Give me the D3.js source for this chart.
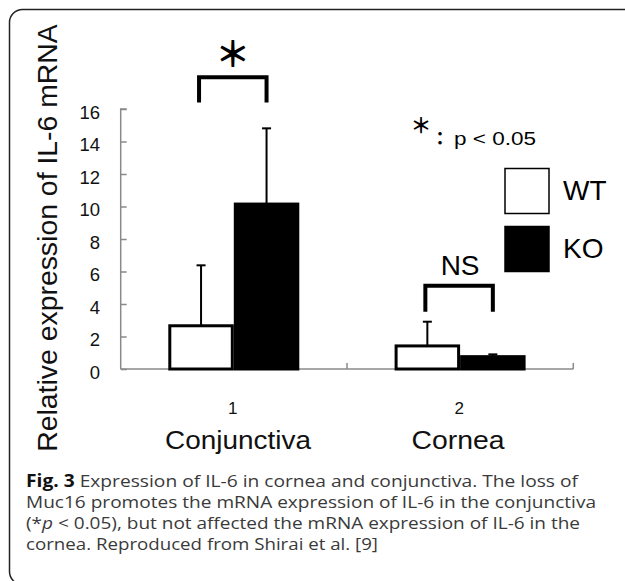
<!DOCTYPE html>
<html>
<head>
<meta charset="utf-8">
<script src="https://cdn.jsdelivr.net/npm/d3@7"></script>
<style>
  html, body { margin: 0; padding: 0; background: #fff; }
  svg { display: block; }
</style>
</head>
<body>
<svg id="chart" width="625" height="581"></svg>
<script>
// ---- data ----
const categories = ["1", "2"];
const categoryNames = ["Conjunctiva", "Cornea"];
const series = ["WT", "KO"];
const wtValues = [2.66, 1.42];
const koValues = [10.15, 0.76];
const wtErrors = [3.72, 1.49];
const koErrors = [4.66, 0.14];
const yTicks = [0, 2, 4, 6, 8, 10, 12, 14, 16];
const significance = ["＊", "NS"];
const yTitle = "Relative expression of IL-6 mRNA";
const captionLines = [
  [["Fig. 3", true], [" Expression of IL-6 in cornea and conjunctiva. The loss of", false]],
  [["Muc16 promotes the mRNA expression of IL-6 in the conjunctiva", false]],
  [["(*", false], ["p", "i"], [" < 0.05), but not affected the mRNA expression of IL-6 in the", false]],
  [["cornea. Reproduced from Shirai et al. [9]", false]]
];

const svg = d3.select("#chart");
const sans = "'Liberation Sans', Arial, sans-serif";
const cjk = "'Noto Sans CJK JP', sans-serif";

// frame
svg.append("rect").attr("x", 9.5).attr("y", 9.5).attr("width", 640).attr("height", 575)
  .attr("rx", 13).attr("fill", "none").attr("stroke", "#222").attr("stroke-width", 1.5);

// scales
const y = d3.scaleLinear().domain([0, 16]).range([369, 109]);
const x0 = d3.scaleBand().domain(categories).range([120.7, 573.3]).padding(0);
const x1 = d3.scaleBand().domain(series).range([47.6, 178.6]).padding(0);

// axes
const axisColor = "#8a8a8a";
const gy = svg.append("g").attr("transform", "translate(120.7,0)")
  .call(d3.axisRight(y).tickValues(yTicks).tickSize(6).tickFormat(""));
gy.select(".domain").attr("d", `M6,${y(16)}H0V${y(0)}`);
gy.selectAll("line, path").attr("stroke", axisColor).attr("stroke-width", 1.5);

svg.append("line").attr("x1", x0.range()[0]).attr("x2", x0.range()[1])
  .attr("y1", y(0)).attr("y2", y(0)).attr("stroke", axisColor).attr("stroke-width", 1.5);
svg.selectAll(".xtick").data(categories).enter().append("line")
  .attr("x1", d => x0(d) + x0.bandwidth()).attr("x2", d => x0(d) + x0.bandwidth())
  .attr("y1", y(0)).attr("y2", y(0) - 6).attr("stroke", axisColor).attr("stroke-width", 1.5);

// y tick labels
svg.selectAll(".ylab").data(yTicks).enter().append("text")
  .attr("x", 100).attr("y", d => y(d) + 9.5)
  .attr("text-anchor", "end").attr("font-family", sans).attr("font-size", 18.5)
  .attr("fill", "#111").text(d => d);

// y title
svg.append("text").attr("transform", `translate(56.5,238) rotate(-90)`)
  .attr("text-anchor", "middle").attr("font-family", sans).attr("font-size", 28.4)
  .attr("fill", "#111").text(yTitle);

// bars
const rows = [];
categories.forEach((c, i) => {
  rows.push({ cat: c, s: "WT", v: wtValues[i], e: wtErrors[i] });
  rows.push({ cat: c, s: "KO", v: koValues[i], e: koErrors[i] });
});
const cx = d => x0(d.cat) + x1(d.s) + x1.bandwidth() / 2;

svg.selectAll(".bar").data(rows).enter().append("rect")
  .attr("x", d => x0(d.cat) + x1(d.s) + 1.5)
  .attr("width", x1.bandwidth() - 3)
  .attr("y", d => y(d.v))
  .attr("height", d => y(0) - y(d.v))
  .attr("fill", d => d.s === "WT" ? "#fff" : "#000")
  .attr("stroke", "#000").attr("stroke-width", 3);

// error bars (upper only)
const eb = svg.selectAll(".err").data(rows).enter().append("g");
eb.append("line").attr("x1", cx).attr("x2", cx)
  .attr("y1", d => y(d.v)).attr("y2", d => y(d.v + d.e))
  .attr("stroke", "#000").attr("stroke-width", 2);
eb.append("line").attr("x1", d => cx(d) - 4.5).attr("x2", d => cx(d) + 4.5)
  .attr("y1", d => y(d.v + d.e)).attr("y2", d => y(d.v + d.e))
  .attr("stroke", "#000").attr("stroke-width", 2);

// x labels
svg.selectAll(".xlab").data(categories).enter().append("text")
  .attr("x", d => x0(d) + x0.bandwidth() / 2 - 1).attr("y", 414)
  .attr("text-anchor", "middle").attr("font-family", sans).attr("font-size", 17)
  .attr("fill", "#111").text(d => d);
const nameX = [238, 458];
const nameLen = [146, 93];
svg.selectAll(".cname").data(categoryNames).enter().append("text")
  .attr("x", (d, i) => nameX[i] - nameLen[i] / 2).attr("y", 449)
  .attr("textLength", (d, i) => nameLen[i]).attr("lengthAdjust", "spacingAndGlyphs")
  .attr("font-family", sans).attr("font-size", 25.5)
  .attr("fill", "#111").text(d => d);

// significance brackets
const bracketTop = [17.95, 5.12];
const bracketBottom = [16.4, 3.52];
categories.forEach((c, i) => {
  const xl = x0(c) + x1("WT") + x1.bandwidth() / 2 - 2;
  const xr = x0(c) + x1("KO") + x1.bandwidth() / 2;
  svg.append("path")
    .attr("d", `M${xl},${y(bracketBottom[i])}V${y(bracketTop[i])}H${xr}V${y(bracketBottom[i])}`)
    .attr("fill", "none").attr("stroke", "#000").attr("stroke-width", 4);
});
// star
svg.append("text").attr("x", x0("1") + x1("KO") - 1).attr("y", 67)
  .attr("text-anchor", "middle").attr("font-family", cjk).attr("font-size", 35)
  .attr("font-weight", 700)
  .attr("fill", "#000").text(significance[0]);
// NS
svg.append("text").attr("x", x0("2") + x1("KO") ).attr("y", 275)
  .attr("text-anchor", "middle").attr("font-family", sans).attr("font-size", 28)
  .attr("fill", "#000").text(significance[1]);

// p-value note
svg.append("text").attr("x", 421).attr("y", 133)
  .attr("text-anchor", "middle").attr("font-family", cjk).attr("font-size", 21)
  .attr("font-weight", 700)
  .attr("fill", "#000").text("＊");
svg.append("text").attr("x", 440).attr("y", 145)
  .attr("text-anchor", "middle").attr("font-family", cjk).attr("font-size", 18)
  .attr("font-weight", 700)
  .attr("fill", "#000").text("：");
svg.append("text").attr("x", 454).attr("y", 145)
  .attr("textLength", 82).attr("lengthAdjust", "spacingAndGlyphs")
  .attr("font-family", sans).attr("font-size", 18)
  .attr("fill", "#000").text("p < 0.05");

// legend
const legendY = [168.5, 226.5];
series.forEach((s, i) => {
  svg.append("rect").attr("x", 505).attr("y", legendY[i]).attr("width", 44).attr("height", 45)
    .attr("fill", s === "WT" ? "#fff" : "#000").attr("stroke", "#000").attr("stroke-width", 1.5);
  svg.append("text").attr("x", 563).attr("y", legendY[i] + 31.5)
    .attr("font-family", sans).attr("font-size", 28).attr("fill", "#000").text(s);
});

// caption
const capLen = [552, 570, 554, 352];
captionLines.forEach((line, i) => {
  const t = svg.append("text").attr("x", 26).attr("y", 487 + i * 21)
    .attr("font-family", "'Open Sans', sans-serif").attr("font-size", 17)
    .attr("fill", "#3a3a3a")
    .attr("textLength", capLen[i]).attr("lengthAdjust", "spacingAndGlyphs");
  line.forEach(([txt, style]) => {
    const ts = t.append("tspan").text(txt);
    if (style === true) ts.attr("font-weight", "bold").attr("fill", "#111");
    if (style === "i") ts.attr("font-style", "italic");
  });
});
</script>
</body>
</html>
